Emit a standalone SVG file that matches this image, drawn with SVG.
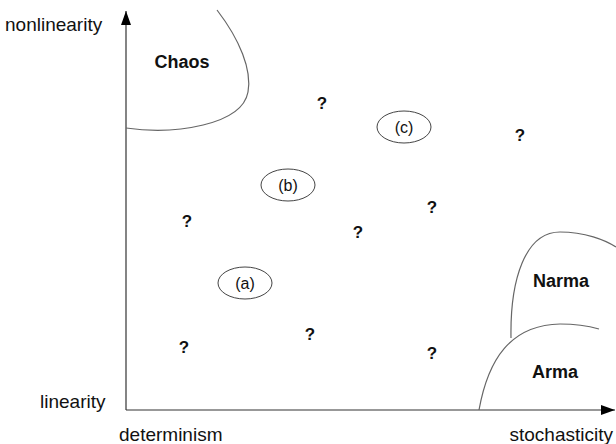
<svg xmlns="http://www.w3.org/2000/svg" width="616" height="444" viewBox="0 0 616 444">
<defs>
<style>
.ax{font-family:"Liberation Sans",Arial,sans-serif;font-size:19px;fill:#111}
.rg{font-family:"Liberation Sans",Arial,sans-serif;font-size:18px;font-weight:bold;fill:#111;text-anchor:middle}
.q{font-family:"Liberation Sans",Arial,sans-serif;font-size:17px;font-weight:bold;fill:#111;text-anchor:middle}
.el{fill:none;stroke:#444;stroke-width:1}
.lb{font-family:"Liberation Sans",Arial,sans-serif;font-size:16px;fill:#111;text-anchor:middle}
.cv{fill:none;stroke:#666;stroke-width:1.2}
.axis{stroke:#333;stroke-width:1.2;fill:none}
</style>
<marker id="ah" viewBox="0 0 14 10" refX="14" refY="5" markerWidth="14" markerHeight="10" markerUnits="userSpaceOnUse" orient="auto">
<path d="M0,0 L14,5 L0,10 z" fill="#000"/>
</marker>
</defs>
<rect width="616" height="444" fill="#fff"/>
<g id="connectors">
<path class="axis" d="M126,410 L126,11" marker-end="url(#ah)"/>
<path class="axis" d="M126,410 L615,410" marker-end="url(#ah)"/>
</g>
<g id="axis-labels">
<text class="ax" x="5" y="31">nonlinearity</text>
<text class="ax" x="40" y="408">linearity</text>
<text class="ax" x="119" y="441">determinism</text>
<text class="ax" x="613" y="441" text-anchor="end">stochasticity</text>
</g>
<g id="chaos">
<path class="cv" d="M217,10 C240,40 252,70 248,92 C242,125 175,135 126,128"/>
<text class="rg" x="182" y="68">Chaos</text>
</g>
<g id="narma">
<path class="cv" d="M511,338 C510,280 525,232 560,232 C585,232 605,240 616,247"/>
<text class="rg" x="561" y="287">Narma</text>
</g>
<g id="arma">
<path class="cv" d="M479,410 C488,360 510,325 560,324 C580,324 592,327 599,329"/>
<text class="rg" x="555" y="378">Arma</text>
</g>
<g id="node-a">
<ellipse class="el" cx="245" cy="283" rx="27" ry="16"/>
<text class="lb" x="245" y="289">(a)</text>
</g>
<g id="node-b">
<ellipse class="el" cx="288" cy="185" rx="27" ry="16"/>
<text class="lb" x="288" y="191">(b)</text>
</g>
<g id="node-c">
<ellipse class="el" cx="404" cy="127" rx="27" ry="16"/>
<text class="lb" x="404" y="133">(c)</text>
</g>
<g id="unknowns">
<text class="q" x="322" y="109">?</text>
<text class="q" x="520" y="141">?</text>
<text class="q" x="187" y="227">?</text>
<text class="q" x="358" y="238">?</text>
<text class="q" x="432" y="213">?</text>
<text class="q" x="184" y="353">?</text>
<text class="q" x="310" y="340">?</text>
<text class="q" x="432" y="359">?</text>
</g>
</svg>
